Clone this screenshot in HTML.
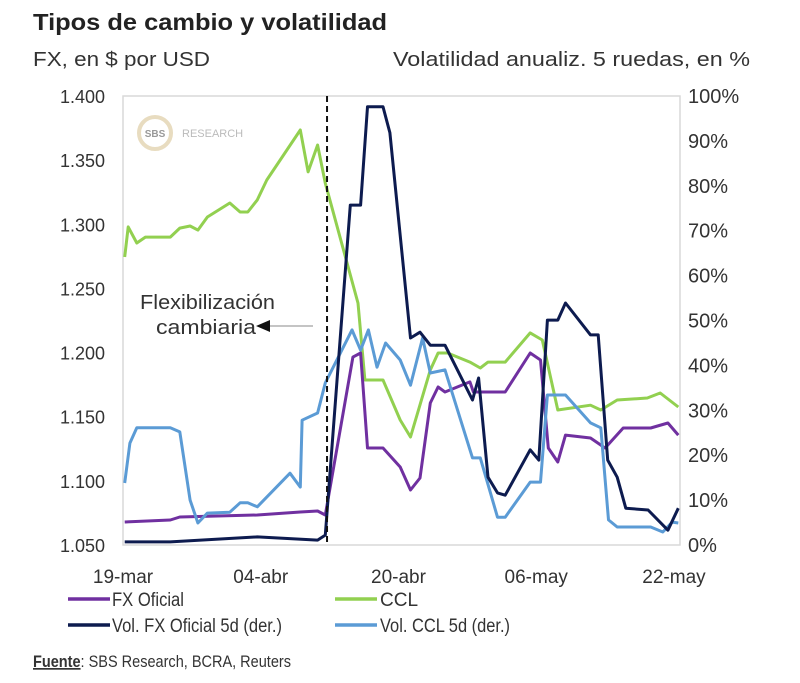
<!DOCTYPE html>
<html><head><meta charset="utf-8"><style>
body{margin:0;background:#fff;width:800px;height:683px;overflow:hidden}
svg{display:block;font-family:"Liberation Sans",sans-serif}
</style></head><body>
<svg width="800" height="683">
<script>
const dates=[0,16,32,48,64];
const dateLabels=["19-mar","04-abr","20-abr","06-may","22-may"];
const leftTicks=[1.05,1.10,1.15,1.20,1.25,1.30,1.35,1.40];
const leftTickLabels=["1.050","1.100","1.150","1.200","1.250","1.300","1.350","1.400"];
const rightTicks=[0,10,20,30,40,50,60,70,80,90,100];
const cclDays=[0.2,0.6,1.6,2.6,5.5,6.6,7.8,8.7,9.8,12.4,13.6,14.5,15.6,16.7,20.6,21.5,22.6,23.5,27.3,28.1,30.2,32.2,33.4,35.7,36.6,37.7,40.3,41.5,42.4,44.4,47.3,48.7,50.5,54.3,55.5,57.4,60.9,62.4,64.5];
const cclVals=[1.2745,1.298,1.2854,1.290,1.290,1.297,1.2987,1.2955,1.3057,1.3166,1.3096,1.3096,1.319,1.3345,1.3735,1.3408,1.3618,1.332,1.2386,1.1786,1.1786,1.1474,1.1342,1.1864,1.1997,1.1997,1.1926,1.188,1.1926,1.1926,1.2153,1.2098,1.1552,1.159,1.1552,1.163,1.1646,1.1685,1.1576];
const fxDays=[0.2,5.5,6.6,15.6,20.6,22.6,23.5,26.7,27.6,28.4,30.2,32.2,33.4,34.5,35.7,36.6,37.4,40.3,40.7,41.9,44.4,47.3,48.5,49.4,50.5,51.4,54.3,56.0,58.1,61.3,63.3,64.5];
const fxVals=[1.0679,1.0695,1.0718,1.0734,1.0757,1.0765,1.0734,1.1965,1.1997,1.1256,1.1256,1.1108,1.0929,1.1022,1.1607,1.1732,1.1693,1.1771,1.1693,1.1693,1.1693,1.1997,1.1942,1.1256,1.1147,1.1357,1.1334,1.1256,1.1412,1.1412,1.1451,1.1357];
const volFxDays=[0.2,5.5,15.6,22.6,23.5,26.4,27.6,28.4,30.2,31.0,33.4,34.5,35.7,37.4,40.6,41.3,42.4,43.5,44.4,47.3,48.3,49.3,50.5,51.4,54.3,55.2,56.3,57.4,58.4,61.0,63.3,64.5];
const volFxVals=[0.7,0.7,1.8,1.1,2.2,75.7,75.7,97.6,97.6,91.8,46.1,47.4,44.5,44.5,32.3,37.2,15.1,11.6,11.1,21.2,18.9,50.1,50.1,53.9,46.8,46.8,18.9,15.1,8.2,7.8,3.3,8.2];
const volCclDays=[0.2,0.8,1.6,5.5,6.6,7.8,8.7,9.8,12.4,13.6,14.5,15.6,19.4,20.6,20.8,22.6,23.5,26.6,27.6,28.5,29.5,30.5,32.2,33.4,34.8,35.7,37.4,40.6,41.5,43.5,44.4,47.3,48.5,49.3,51.4,54.3,55.5,56.4,57.4,61.3,62.7,63.8,64.5];
const volCclVals=[13.8,22.7,26.1,26.1,25.2,10.0,4.9,7.1,7.3,9.4,9.4,8.5,16.0,12.9,27.8,29.4,36.1,47.9,43.4,47.9,39.6,45.0,41.2,35.6,46.1,38.3,39.0,19.4,19.4,6.2,6.2,14.0,14.0,33.4,33.4,27.2,26.1,5.6,4.0,4.0,2.9,5.1,4.9];
</script>
<text x="33" y="30" font-weight="bold" font-size="23" fill="#222" textLength="354" lengthAdjust="spacingAndGlyphs">Tipos de cambio y volatilidad</text>
<text x="33" y="66" font-size="20" fill="#333" textLength="177" lengthAdjust="spacingAndGlyphs">FX, en $ por USD</text>
<text x="393" y="66" font-size="20" fill="#333" textLength="357" lengthAdjust="spacingAndGlyphs">Volatilidad anualiz. 5 ruedas, en %</text>
<rect x="123" y="96" width="557" height="449" fill="none" stroke="#d9d9d9" stroke-width="1.5"/>
<g>
<circle cx="155" cy="133" r="16" fill="none" stroke="#e8dcc0" stroke-width="4"/>
<text x="155" y="137" font-size="10" font-weight="bold" fill="#999" text-anchor="middle">SBS</text>
<text x="182" y="137" font-size="11" fill="#bbb">RESEARCH</text>
</g>
<g id="axes"></g>
<g id="series"></g>
<line id="dash" y1="96" y2="545" stroke="#111" stroke-width="2" stroke-dasharray="6,4"/>
<text x="140" y="309" font-size="20" fill="#333" textLength="135" lengthAdjust="spacingAndGlyphs">Flexibilización</text>
<text x="156" y="334" font-size="20" fill="#333" textLength="100" lengthAdjust="spacingAndGlyphs">cambiaria</text>
<g><line x1="262" y1="326" x2="313" y2="326" stroke="#888" stroke-width="1"/><polygon points="256,326 270,320 270,332" fill="#111"/></g>
<g>
<g><line x1="68" y1="599" x2="110" y2="599" stroke="#7030a0" stroke-width="3.5"/><text x="112" y="606" font-size="19" fill="#333" textLength="72" lengthAdjust="spacingAndGlyphs">FX Oficial</text></g>
<g><line x1="335" y1="599" x2="377" y2="599" stroke="#92d050" stroke-width="3.5"/><text x="380" y="606" font-size="19" fill="#333">CCL</text></g>
<g><line x1="68" y1="625" x2="110" y2="625" stroke="#0d1b4f" stroke-width="3.5"/><text x="112" y="632" font-size="19" fill="#333" textLength="170" lengthAdjust="spacingAndGlyphs">Vol. FX Oficial 5d (der.)</text></g>
<g><line x1="335" y1="625" x2="377" y2="625" stroke="#5b9bd5" stroke-width="3.5"/><text x="380" y="632" font-size="19" fill="#333" textLength="130" lengthAdjust="spacingAndGlyphs">Vol. CCL 5d (der.)</text></g>
</g>
<text x="33" y="667" font-size="17" fill="#333" textLength="258" lengthAdjust="spacingAndGlyphs"><tspan font-weight="bold" text-decoration="underline">Fuente</tspan>: SBS Research, BCRA, Reuters</text>
<script>
const NS="http://www.w3.org/2000/svg";
const X=d=>123+d*(557/64.7);
const YL=v=>96+(1.40-v)/0.35*449;
const YR=p=>96+(100-p)/100*449;
const axes=document.getElementById('axes');
function txt(x,y,s,anchor,name,fs){const t=document.createElementNS(NS,'text');t.setAttribute('x',x);t.setAttribute('y',y);t.setAttribute('font-size',fs);t.setAttribute('fill','#333');t.setAttribute('text-anchor',anchor);t.textContent=s;


axes.appendChild(t);}
leftTicks.forEach((v,i)=>txt(105,YL(v)+7,leftTickLabels[i],'end','left-tick-label','18'));
rightTicks.forEach(p=>txt(688,YR(p)+7,p+'%','start','right-tick-label','20'));
dates.forEach((d,i)=>txt(X(d),583,dateLabels[i],'middle','x-tick-label','19'));
const dl=document.getElementById('dash');dl.setAttribute('x1',X(23.7));dl.setAttribute('x2',X(23.7));
const ser=document.getElementById('series');
function line(days,vals,yf,color,name){const p=document.createElementNS(NS,'polyline');p.setAttribute('points',days.map((d,i)=>X(d).toFixed(1)+','+yf(vals[i]).toFixed(1)).join(' '));p.setAttribute('fill','none');p.setAttribute('stroke',color);p.setAttribute('stroke-width','3');p.setAttribute('stroke-linejoin','round');


ser.appendChild(p);}
line(cclDays,cclVals,YL,'#92d050','ccl-line');
line(fxDays,fxVals,YL,'#7030a0','fx-oficial-line');
line(volCclDays,volCclVals,YR,'#5b9bd5','vol-ccl-line');
line(volFxDays,volFxVals,YR,'#0d1b4f','vol-fx-oficial-line');
</script>
</svg>
</body></html>
